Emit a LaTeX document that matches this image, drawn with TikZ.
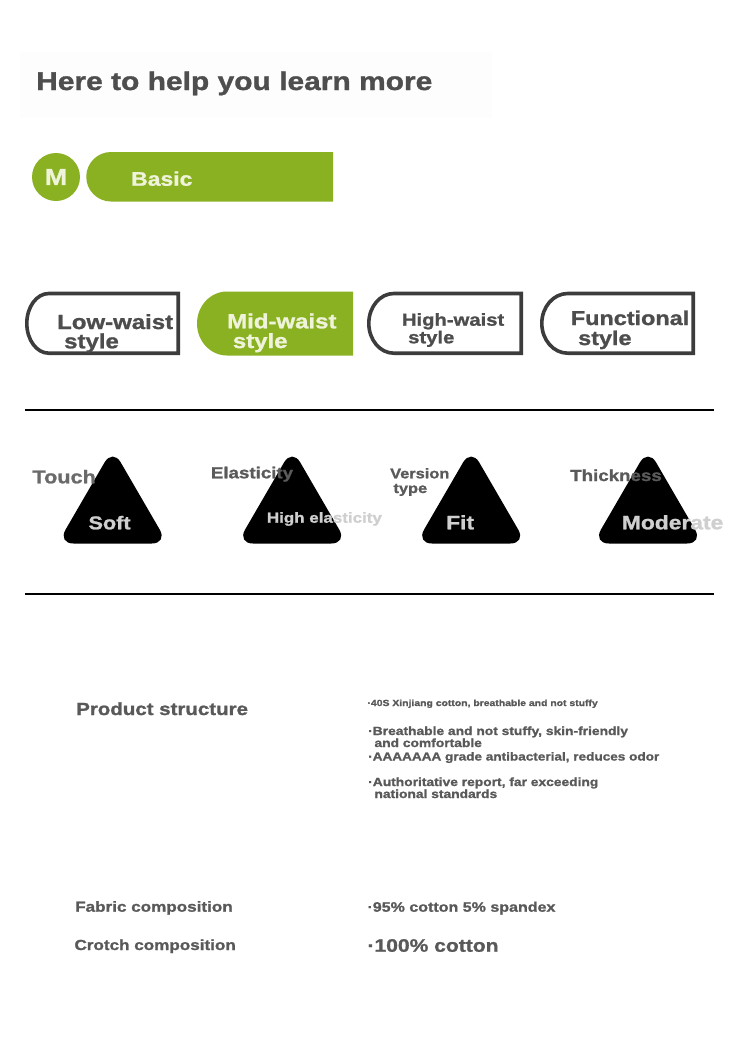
\documentclass[tikz,border=0pt]{standalone}
\usepackage{fontspec}
\setmainfont{Liberation Sans}[FakeStretch=1.17,BoldFeatures={FakeBold=1.2}]
\newcommand\fsz[1]{\fontsize{#1}{#1}\selectfont\bfseries}
\definecolor{hdr}{HTML}{4E4E4E}
\definecolor{hdrbg}{HTML}{FDFDFD}
\definecolor{leaf}{HTML}{8AB122}
\definecolor{leaftext}{HTML}{EEF3D9}
\definecolor{btnline}{HTML}{3C3C3C}
\definecolor{btntext}{HTML}{4D4D4D}
\definecolor{lbl}{HTML}{5A5A5A}
\definecolor{touchc}{HTML}{6A6A6A}
\definecolor{tritext}{HTML}{CFCFCF}
\definecolor{body}{HTML}{595959}
\tikzset{
  txt/.style={inner sep=0pt, anchor=base west},
  btnbox/.style={draw=btnline, line width=3.6pt},
  tri/.style={fill=black, rounded corners=16pt},
  rule/.style={line width=2pt, black},
}
\begin{document}
\begin{tikzpicture}[x=1pt,y=-1pt]
\useasboundingbox (0,0) rectangle (750,1042);
\fill[white] (0,0) rectangle (750,1042);
% header
\fill[hdrbg] (20,52) rectangle (492,118);
\node[txt,text=hdr,font=\fsz{25.6}] (title) at (36,90) {Here to help you learn more};
% M badge and Basic bar
\node[circle,fill=leaf,minimum size=48pt,inner sep=0pt,text=leaftext,font=\fsz{23}] (m) at (56,177) {M};
\fill[leaf] (111,152) -- (333,152) -- (333,201.5) -- (111,201.5)
  arc[start angle=90,end angle=270,x radius=24.75,y radius=24.75] -- cycle;
\node[txt,text=leaftext,font=\fsz{19.6}] (basic) at (131,185.7) {Basic};
% style buttons
\draw[btnbox] (178.2,293.5) -- (48.8,293.5)
  arc[start angle=270,end angle=90,x radius=22,y radius=29.85] -- (178.2,353.2) -- cycle;
\fill[leaf] (227,291.5) -- (353,291.5) -- (353,355.5) -- (227,355.5)
  arc[start angle=90,end angle=270,x radius=30,y radius=32] -- cycle;
\draw[btnbox] (521.2,293.5) -- (393.8,293.5)
  arc[start angle=270,end angle=90,x radius=25,y radius=29.85] -- (521.2,353.2) -- cycle;
\draw[btnbox] (693.2,293.5) -- (567.8,293.5)
  arc[start angle=270,end angle=90,x radius=26,y radius=29.85] -- (693.2,353.2) -- cycle;
\node[txt,text=btntext,font=\fsz{20.5}] (lw1) at (57,329) {Low-waist};
\node[txt,text=btntext,font=\fsz{20.5}] (lw2) at (64,348.3) {style};
\node[txt,text=leaftext,font=\fsz{20.5}] (mw1) at (227,328.3) {Mid-waist};
\node[txt,text=leaftext,font=\fsz{20.5}] (mw2) at (232.7,348) {style};
\node[txt,text=btntext,font=\fsz{17.3}] (hw1) at (401.7,325.7) {High-waist};
\node[txt,text=btntext,font=\fsz{17.3}] (hw2) at (408,343.3) {style};
\node[txt,text=btntext,font=\fsz{20}] (fn1) at (570.7,325) {Functional};
\node[txt,text=btntext,font=\fsz{20}] (fn2) at (578,345) {style};
% rules
\coordinate (r1a) at (25,409.7); \coordinate (r1b) at (714,409.7);
\coordinate (r2a) at (25,594); \coordinate (r2b) at (714,594);
\draw[rule] (r1a) -- (r1b);
\draw[rule] (r2a) -- (r2b);
% triangles
\foreach \cx in {112.65,292.15,471.15,648}{
  \fill[tri] (\cx,448.5) -- (\cx+55.15,543.5) -- (\cx-55.15,543.5) -- cycle;
}
\node[txt,text=touchc,font=\fsz{18.5}] (touch) at (32.3,483.3) {Touch};
\node[txt,text=tritext,font=\fsz{18.5}] (soft) at (88.3,529.3) {Soft};
\node[txt,text=lbl,font=\fsz{16}] (elast) at (210.7,478.3) {Elasticity};
\node[txt,text=tritext,font=\fsz{14.5}] (highel) at (266.7,522.7) {High elasticity};
\node[txt,text=lbl,font=\fsz{14}] (vers) at (390,478.3) {Version};
\node[txt,text=lbl,font=\fsz{14}] (vtype) at (393.3,493) {type};
\node[txt,text=tritext,font=\fsz{19.5}] (fit) at (446,529.3) {Fit};
\node[txt,text=lbl,font=\fsz{16}] (thick) at (570,481) {Thickness};
\node[txt,text=tritext,font=\fsz{19.5}] (moder) at (621.7,529.3) {Moderate};
% product structure
\node[txt,text=body,font=\fsz{17.5}] (ps) at (76,715) {Product structure};
\node[txt,text=body,font=\fsz{8.9}] (b0) at (367.3,706) {·40S Xinjiang cotton, breathable and not stuffy};
\node[txt,text=body,font=\fsz{11.8}] (b1) at (368,735) {·Breathable and not stuffy, skin-friendly};
\node[txt,text=body,font=\fsz{11.8}] (b1b) at (374.3,747) {and comfortable};
\node[txt,text=body,font=\fsz{11.6}] (b2) at (368,760.5) {·AAAAAAA grade antibacterial, reduces odor};
\node[txt,text=body,font=\fsz{11.8}] (b3) at (368,786) {·Authoritative report, far exceeding};
\node[txt,text=body,font=\fsz{11.8}] (b3b) at (374.3,798) {national standards};
% compositions
\node[txt,text=body,font=\fsz{14.6}] (fab) at (75,911.7) {Fabric composition};
\node[txt,text=body,font=\fsz{14.6}] (crot) at (74.3,950) {Crotch composition};
\node[txt,text=body,font=\fsz{13.7}] (v1) at (367.3,911.7) {·95\% cotton 5\% spandex};
\node[txt,text=body,font=\fsz{18}] (v2) at (367.3,951.7) {·100\% cotton};
\end{tikzpicture}
\end{document}
